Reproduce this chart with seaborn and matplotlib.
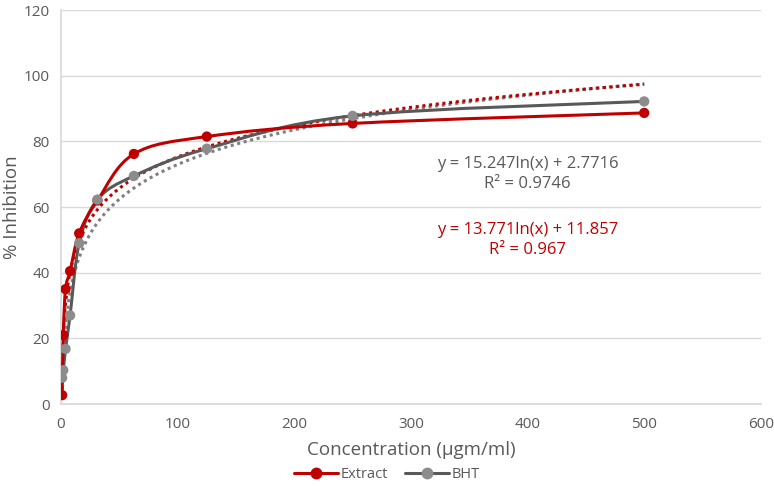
import numpy as np
import pandas as pd
import matplotlib
matplotlib.use("Agg")
import matplotlib.pyplot as plt
from matplotlib.path import Path
from matplotlib.patches import PathPatch
from matplotlib.lines import Line2D
import seaborn as sns

# data
conc = [0.98, 1.95, 3.9, 7.8, 15.6, 31.25, 62.5, 125, 250, 500]
extract = [2.7, 21.0, 35.0, 40.5, 52.0, 62.0, 76.2, 81.5, 85.5, 88.7]
bht = [8.0, 10.3, 16.8, 27.0, 49.0, 62.3, 69.5, 77.8, 87.8, 92.2]

# log trendline coefficients shown on the chart
ext_a, ext_b, ext_r2 = 13.771, 11.857, 0.967
bht_a, bht_b, bht_r2 = 15.247, 2.7716, 0.9746

red = "#C00000"
grey_line = "#595959"
grey_mark = "#8C8C8C"
grey_trend = "#7F7F7F"
txt = "#595959"

sns.set_theme(style="white")
plt.rcParams["font.family"] = ["Open Sans", "DejaVu Sans"]

df = pd.DataFrame({"conc": conc * 2,
                   "inhibition": extract + bht,
                   "sample": ["Extract"] * len(conc) + ["BHT"] * len(conc)})

fig = plt.figure(figsize=(7.74, 4.86), dpi=100)
ax = fig.add_axes([0.0788, 0.1687, 0.9042, 0.8103])


def smooth_path(x, y):
    # Catmull-Rom style bezier, similar to Excel's smoothed line
    pts = np.column_stack([x, y])
    verts = [pts[0]]
    codes = [Path.MOVETO]
    for i in range(len(pts) - 1):
        p0 = pts[i - 1] if i > 0 else pts[i]
        p1 = pts[i]
        p2 = pts[i + 1]
        p3 = pts[i + 2] if i + 2 < len(pts) else pts[i + 1]
        c1 = p1 + (p2 - p0) / 6
        c2 = p2 - (p3 - p1) / 6
        verts += [c1, c2, p2]
        codes += [Path.CURVE4] * 3
    return Path(verts, codes)


# trendlines (dotted)
xs = np.linspace(min(conc), max(conc), 400)
ax.plot(xs, bht_a * np.log(xs) + bht_b, color=grey_trend, lw=2.2,
        linestyle=(0, (1, 1.2)), zorder=2)
ax.plot(xs, ext_a * np.log(xs) + ext_b, color=red, lw=2.2,
        linestyle=(0, (1, 1.2)), zorder=2)

# smoothed series lines
for name, col in [("BHT", grey_line), ("Extract", red)]:
    sub = df[df["sample"] == name]
    patch = PathPatch(smooth_path(sub["conc"].values, sub["inhibition"].values),
                      facecolor="none", edgecolor=col, lw=2.2, zorder=3)
    ax.add_patch(patch)

sns.scatterplot(data=df, x="conc", y="inhibition", hue="sample",
                palette={"Extract": red, "BHT": grey_mark}, s=55,
                edgecolor="none", legend=False, ax=ax, zorder=4)

ax.set_xlim(0, 600)
ax.set_ylim(0, 120)
ax.set_xticks(range(0, 601, 100))
ax.set_yticks(range(0, 121, 20))
ax.yaxis.grid(True, color="#D9D9D9", lw=1)
ax.xaxis.grid(False)
for s in ["top", "right"]:
    ax.spines[s].set_visible(False)
ax.spines["left"].set_color("#D9D9D9")
ax.spines["bottom"].set_color("#D9D9D9")
ax.tick_params(axis="both", labelsize=11, colors=txt, length=0)
ax.tick_params(axis="x", pad=9.5)
ax.tick_params(axis="y", pad=8)
ax.set_xlabel("Concentration (µgm/ml)", fontsize=13.5, color=txt, labelpad=6)
ax.set_ylabel("% Inhibition", fontsize=13.5, color=txt)
ax.yaxis.set_label_coords(-0.057, 0.5)

ax.text(400, 70, f"y = {bht_a}ln(x) + {bht_b}\nR² = {bht_r2}", color=txt,
        fontsize=12, ha="center", va="center", linespacing=1.3)
ax.text(400, 50, f"y = {ext_a}ln(x) + {ext_b}\nR² = {ext_r2}", color=red,
        fontsize=12, ha="center", va="center", linespacing=1.3)

handles = [Line2D([0], [0], color=red, lw=2.2, marker="o", ms=7.5),
           Line2D([0], [0], color=grey_line, lw=2.2, marker="o", ms=7.5,
                  markerfacecolor=grey_mark, markeredgecolor=grey_mark)]
leg = fig.legend(handles, ["Extract", "BHT"], loc="lower center",
                 bbox_to_anchor=(0.5, -0.018), ncol=2, frameon=False,
                 fontsize=10.5, handlelength=3, columnspacing=1.2, handletextpad=0.2)
for t in leg.get_texts():
    t.set_color(txt)

fig.savefig("out.png", dpi=100)
